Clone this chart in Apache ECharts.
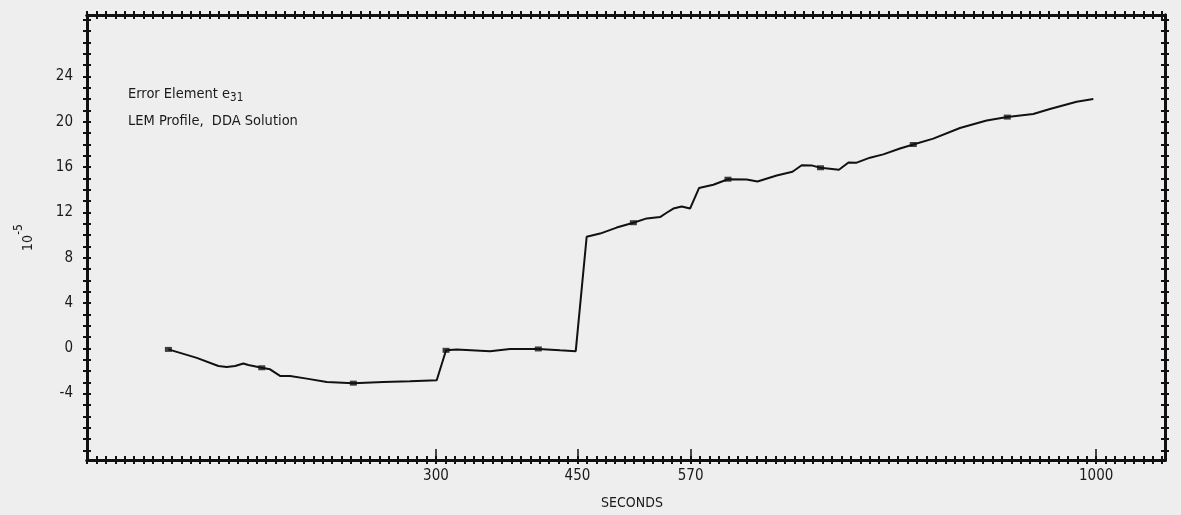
<!DOCTYPE html>
<html>
<head>
<meta charset="utf-8">
<script src="https://cdn.jsdelivr.net/npm/echarts@6/dist/echarts.min.js"></script>
<style>
  html, body { margin: 0; padding: 0; background: #eeeeee; }
  #chart { width: 1181px; height: 515px; }
</style>
</head>
<body>
<div id="chart"></div>
<script>
// ---- data ----
const seconds = [16.3, 46.4, 69.3, 78.2, 87, 95.8, 101.1, 115.3, 124.1, 134.7, 145.3, 163, 184.2, 212.4, 244.2, 272.5, 300.8,
  310.7, 322, 357.3, 378.5, 408.5, 431.5, 448.2, 459.8, 474, 491.6, 509.3, 523.5, 537.6, 544.6, 551.7, 560.6, 569.4,
  578.9, 594.1, 609.6, 629.5, 640.9, 661.3, 678, 687.8, 699.2, 707.7, 727.3, 737.4, 746.1, 760.2, 774.3, 792, 806.1,
  827.3, 855.6, 883.9, 905.8, 933.3, 951, 979.3, 997];
const errorE31 = [-0.1, -0.85, -1.57, -1.66, -1.57, -1.34, -1.48, -1.72, -1.86, -2.44, -2.44, -2.68, -2.97, -3.08, -2.97, -2.9, -2.82,
  -0.18, -0.11, -0.26, -0.06, -0.06, -0.18, -0.26, 9.84, 10.12, 10.65, 11.08, 11.46, 11.58, 11.96, 12.33, 12.51, 12.33,
  14.14, 14.43, 14.92, 14.9, 14.72, 15.25, 15.58, 16.15, 16.12, 15.93, 15.75, 16.39, 16.38, 16.82, 17.11, 17.63, 17.98,
  18.5, 19.44, 20.1, 20.4, 20.68, 21.12, 21.76, 21.99];
const markerSeconds = [16.3, 115.3, 212.4, 310.7, 408.5, 509.3, 609.6, 707.7, 806.1, 905.8];
const markerValues = [-0.1, -1.72, -3.08, -0.18, -0.06, 11.08, 14.92, 15.93, 17.98, 20.4];
const xTickLabels = [300, 450, 570, 1000];
const yTickLabels = [-4, 0, 4, 8, 12, 16, 20, 24];
const xRange = [-70, 1073];
const yRange = [-9.86, 29.41];
const xMinorStep = 10;
const yMinorStep = 1;

// ---- tick positions ----
const xMinor = [];
for (let v = xRange[0]; v <= xRange[1]; v += xMinorStep) xMinor.push(v);
const yMinor = [];
for (let v = Math.ceil(yRange[0]); v <= yRange[1]; v += yMinorStep) yMinor.push(v);

const ink = '#111111';
const txt = '#1a1a1a';
const labelFont = "'Liberation Sans Narrow', 'DejaVu Sans Condensed', sans-serif";
const textFont = "'DejaVu Sans Condensed', 'Liberation Sans Narrow', sans-serif";

function xAx(position, inside, opts) {
  return Object.assign({
    type: 'value', position: position, min: xRange[0], max: xRange[1],
    axisLine: { show: true, onZero: false, lineStyle: { color: ink, width: 3 } },
    axisTick: { show: true, inside: inside, length: 4, customValues: xMinor, lineStyle: { color: ink, width: 2 } },
    axisLabel: { show: false },
    splitLine: { show: false }
  }, opts || {});
}
function yAx(position, inside, opts) {
  return Object.assign({
    type: 'value', position: position, min: yRange[0], max: yRange[1],
    axisLine: { show: true, onZero: false, lineStyle: { color: ink, width: 3 } },
    axisTick: { show: true, inside: inside, length: 4, customValues: yMinor, lineStyle: { color: ink, width: 2 } },
    axisLabel: { show: false },
    splitLine: { show: false }
  }, opts || {});
}

const chart = echarts.init(document.getElementById('chart'), null, { renderer: 'canvas' });
chart.setOption({
  backgroundColor: '#eeeeee',
  animation: false,
  grid: { left: 87, right: 16, top: 15, bottom: 50, containLabel: false },
  xAxis: [
    xAx('bottom', false, {
      axisLabel: { show: true, customValues: xTickLabels, margin: 9, fontSize: 15, color: txt, fontFamily: labelFont,
        formatter: function (v) { return String(v); } },
      name: 'SECONDS', nameLocation: 'middle', nameGap: 36,
      nameTextStyle: { fontSize: 14, color: txt, fontFamily: textFont, padding: [0, 0, 0, 12] }
    }),
    xAx('bottom', true),
    xAx('bottom', true, {
      axisLine: { show: false, onZero: false },
      axisTick: { show: true, inside: true, length: 11, customValues: xTickLabels, lineStyle: { color: ink, width: 1.5 } }
    }),
    xAx('top', false),
    xAx('top', true)
  ],
  yAxis: [
    yAx('left', false, {
      axisLabel: { show: true, customValues: yTickLabels, margin: 14, fontSize: 15, color: txt, fontFamily: labelFont,
        formatter: function (v) { return String(v); } },
      name: '{a|10}{b|-5}', nameLocation: 'middle', nameGap: 52,
      nameTextStyle: {
        color: txt,
        rich: {
          a: { fontSize: 14, fontFamily: labelFont, color: txt, lineHeight: 22, verticalAlign: 'bottom' },
          b: { fontSize: 12, fontFamily: labelFont, color: txt, lineHeight: 22, verticalAlign: 'top', padding: [0, 0, 8, 0] }
        }
      }
    }),
    yAx('left', true),
    yAx('right', false),
    yAx('right', true)
  ],
  graphic: [
    {
      type: 'text', x: 128, y: 94,
      style: {
        text: '{a|Error Element e}{b|31}',
        verticalAlign: 'middle',
        rich: {
          a: { fontSize: 14.5, fontFamily: textFont, fill: txt, lineHeight: 20 },
          b: { fontSize: 11.5, fontFamily: textFont, fill: txt, lineHeight: 20, padding: [9, 0, 0, 0] }
        }
      }
    },
    {
      type: 'text', x: 128, y: 121.5,
      style: { text: 'LEM Profile,  DDA Solution', verticalAlign: 'middle', fontSize: 14.5, fontFamily: textFont, fill: txt }
    }
  ],
  series: [
    {
      name: 'e31', type: 'line', xAxisIndex: 0, yAxisIndex: 0,
      data: seconds.map((s, i) => [s, errorE31[i]]),
      showSymbol: false, symbol: 'none',
      lineStyle: { color: ink, width: 2 },
      z: 3
    },
    {
      name: 'marks', type: 'scatter', xAxisIndex: 0, yAxisIndex: 0,
      data: markerSeconds.map((s, i) => [s, markerValues[i]]),
      symbol: 'rect', symbolSize: [7, 5],
      itemStyle: { color: ink },
      z: 4
    }
  ]
});
</script>
</body>
</html>
